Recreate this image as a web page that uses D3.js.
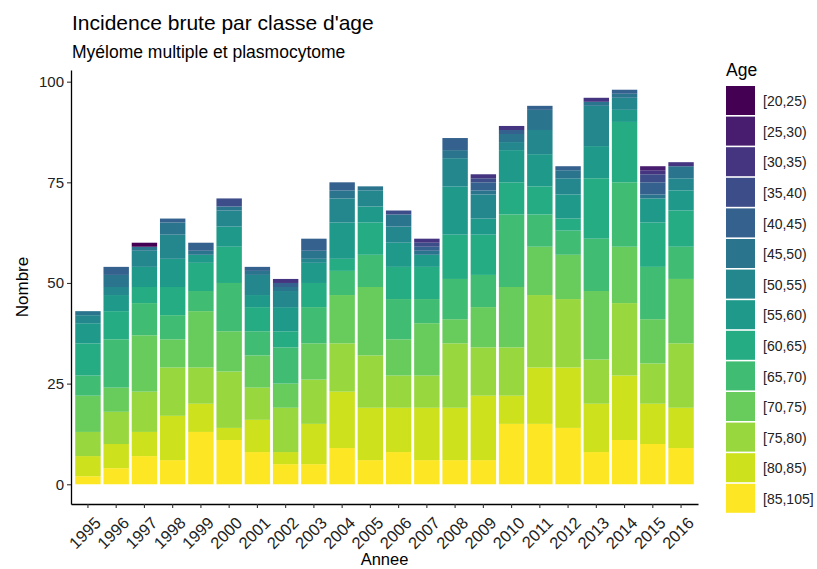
<!DOCTYPE html>
<html>
<head>
<meta charset="utf-8">
<script src="https://cdn.jsdelivr.net/npm/d3@7"></script>
<style>
  body { margin: 0; background: #fff; }
  svg text { font-family: "Liberation Sans", Arial, sans-serif; }
</style>
</head>
<body>
<div id="chart"></div>
<script>
var years = ["1995","1996","1997","1998","1999","2000","2001","2002","2003","2004","2005",
             "2006","2007","2008","2009","2010","2011","2012","2013","2014","2015","2016"];

// age classes, from youngest (top of stack) to oldest (bottom)
var ageClasses = ["[20,25)","[25,30)","[30,35)","[35,40)","[40,45)","[45,50)","[50,55)",
                  "[55,60)","[60,65)","[65,70)","[70,75)","[75,80)","[80,85)","[85,105]"];

// counts per age class, one value per year
var a20_25  = [0,0,1,0,0,0,0,0,0,0,0,0,0,0,0,0,0,0,0,0,0,0];
var a25_30  = [0,0,0,0,0,0,0,0,0,0,0,0,0,0,0,0,0,0,0,0,1,0];
var a30_35  = [0,0,0,0,0,0,0,1,0,0,0,0,1,0,1,1,0,0,1,0,1,1];
var a35_40  = [0,0,0,0,0,2,0,0,0,0,0,1,1,0,1,0,0,0,0,0,2,0];
var a40_45  = [0,2,0,1,2,0,1,1,3,2,0,0,1,3,2,1,1,1,0,1,3,0];
var a45_50  = [1,3,1,3,1,1,1,1,2,2,1,3,1,2,1,2,5,2,1,1,1,3];
var a50_55  = [2,2,4,6,0,4,5,4,1,6,4,4,0,7,6,2,6,4,10,3,0,3];
var a55_60  = [5,4,5,7,2,5,3,6,5,9,4,6,3,12,4,8,8,6,8,3,6,5];
var a60_65  = [8,7,4,7,7,9,6,4,6,3,8,8,8,11,10,8,7,3,15,15,11,9];
var a65_70  = [5,12,8,6,5,12,6,9,9,6,8,10,6,10,8,18,8,6,13,16,13,8];
var a70_75  = [9,6,14,7,14,10,8,6,9,12,17,9,13,6,10,15,12,11,17,14,11,16];
var a75_80  = [6,8,10,12,9,14,8,11,11,12,13,8,8,16,12,12,18,17,11,18,10,16];
var a80_85  = [5,6,6,11,7,3,8,3,10,14,13,11,13,13,16,7,14,15,12,16,10,10];
var a85_105 = [2,4,7,6,13,11,8,5,5,9,6,8,6,6,6,15,15,14,8,11,10,9];

var yTicks = [0, 25, 50, 75, 100];

var series = [a20_25, a25_30, a30_35, a35_40, a40_45, a45_50, a50_55,
              a55_60, a60_65, a65_70, a70_75, a75_80, a80_85, a85_105];

var width = 817, height = 569;
var margin = {top: 70, left: 71, right: 119, bottom: 65};

var svg = d3.select("#chart").append("svg")
    .attr("width", width)
    .attr("height", height);

// table: one row per year, one column per age class
var table = years.map(function(y, i) {
    var row = {year: y};
    ageClasses.forEach(function(a, j) { row[a] = series[j][i]; });
    return row;
});

// stack the oldest class first so it sits at the bottom
var stackKeys = ageClasses.slice().reverse();
var stacked = d3.stack().keys(stackKeys)(table);

var colour = d3.scaleOrdinal()
    .domain(ageClasses)
    .range(ageClasses.map(function(d, i) { return d3.interpolateViridis(i / (ageClasses.length - 1)); }));

var xScale = d3.scaleBand()
    .domain(years)
    .range([margin.left, width - margin.right])
    .paddingInner(0.1)
    .paddingOuter(0.15);

var yMax = d3.max(table, function(d) { return d3.sum(ageClasses, function(a) { return d[a]; }); });
var pad = yMax * 0.05;
var yScale = d3.scaleLinear()
    .domain([-pad, yMax + pad])
    .range([height - margin.bottom, margin.top]);

// bars
svg.append("g").selectAll("g")
    .data(stacked)
    .enter().append("g")
    .attr("fill", function(d) { return colour(d.key); })
    .selectAll("rect")
    .data(function(d) { return d; })
    .enter().append("rect")
    .attr("x", function(d) { return xScale(d.data.year); })
    .attr("y", function(d) { return yScale(d[1]); })
    .attr("width", xScale.bandwidth())
    .attr("height", function(d) { return yScale(d[0]) - yScale(d[1]); });

// axes
var yAxis = svg.append("g")
    .attr("transform", "translate(" + margin.left + ",0)")
    .call(d3.axisLeft(yScale).tickValues(yTicks).tickSize(4).tickPadding(3).tickSizeOuter(0));
var xAxis = svg.append("g")
    .attr("transform", "translate(0," + (height - margin.bottom) + ")")
    .call(d3.axisBottom(xScale).tickSize(4).tickPadding(3).tickSizeOuter(0));

[xAxis, yAxis].forEach(function(ax) {
    ax.select(".domain").attr("stroke", "#000").attr("stroke-width", 1.3);
    ax.selectAll(".tick line").attr("stroke", "#333").attr("stroke-width", 1.1);
    ax.selectAll(".tick text").attr("fill", "#222").style("font-size", "15px");
});

xAxis.selectAll(".tick text")
    .style("font-size", "16.5px")
    .attr("text-anchor", "end")
    .attr("dy", "0.35em")
    .attr("transform", "translate(5,11) rotate(-45)");

// titles
svg.append("text")
    .attr("x", margin.left + 1).attr("y", 30)
    .style("font-size", "21px").attr("fill", "#000")
    .text("Incidence brute par classe d'age");
svg.append("text")
    .attr("x", margin.left + 1).attr("y", 58)
    .style("font-size", "17.5px").attr("fill", "#000")
    .text("Myélome multiple et plasmocytome");

svg.append("text")
    .attr("x", (margin.left + width - margin.right) / 2)
    .attr("y", 565)
    .attr("text-anchor", "middle")
    .style("font-size", "16.5px")
    .text("Annee");

svg.append("text")
    .attr("transform", "rotate(-90)")
    .attr("x", -(margin.top + height - margin.bottom) / 2)
    .attr("y", 28)
    .attr("text-anchor", "middle")
    .style("font-size", "17px")
    .text("Nombre");

// legend
var legend = svg.append("g").attr("transform", "translate(726,0)");
legend.append("text")
    .attr("x", 0).attr("y", 76)
    .style("font-size", "17.5px")
    .text("Age");

var keyStep = 30.6, keyTop = 86;
var keys = legend.selectAll(".key")
    .data(ageClasses)
    .enter().append("g")
    .attr("class", "key")
    .attr("transform", function(d, i) { return "translate(0," + (keyTop + i * keyStep) + ")"; });
keys.append("rect")
    .attr("width", 29).attr("height", keyStep - 1.6)
    .attr("fill", function(d) { return colour(d); });
keys.append("text")
    .attr("x", 37).attr("y", keyStep / 2)
    .attr("dy", "0.35em")
    .style("font-size", "14px")
    .attr("fill", "#222")
    .text(function(d) { return d; });
</script>
</body>
</html>
